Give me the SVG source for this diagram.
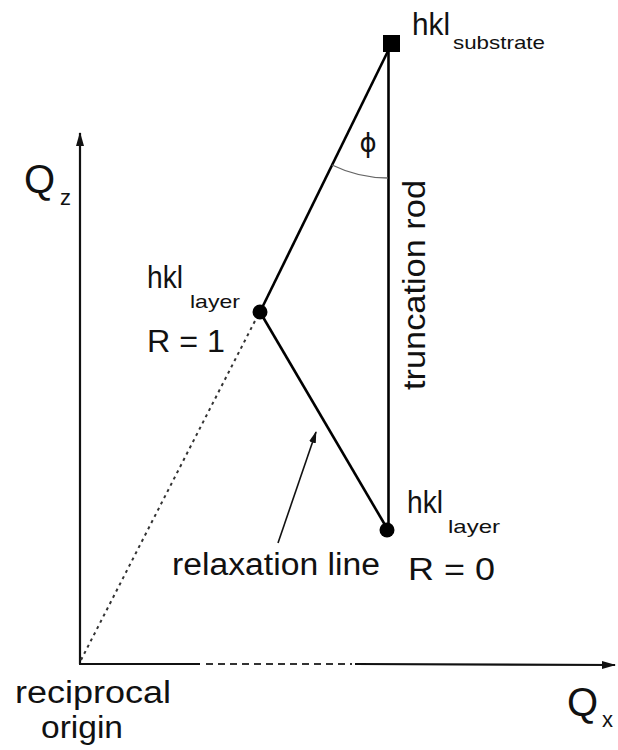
<svg xmlns="http://www.w3.org/2000/svg" width="618" height="750" viewBox="0 0 618 750">
<style>
  text { font-family: "Liberation Sans", Arial, sans-serif; fill: #111; }
  .lbl { font-size: 31px; }
  .sub { font-size: 19px; }
  .ax { font-size: 40px; }
  .axs { font-size: 22px; }
  .thick { stroke: #000; stroke-width: 2.6; fill: none; }
  .axis { stroke: #111; stroke-width: 2.2; fill: none; }
  .dash { stroke: #333; stroke-width: 1.8; stroke-dasharray: 7 5; fill: none; }
  .dot { stroke: #333; stroke-width: 2; stroke-dasharray: 3 4; fill: none; }
  .thin { stroke: #111; stroke-width: 1.6; fill: none; }
  .arc { stroke: #666; stroke-width: 1.3; fill: none; }
</style>
<defs>
  <marker id="axhead" viewBox="0 0 14 10" refX="13" refY="5" markerWidth="14" markerHeight="10" markerUnits="userSpaceOnUse" orient="auto">
    <path d="M0,1 L14,5 L0,9 Z" fill="#111"/>
  </marker>
  <marker id="smhead" viewBox="0 0 12 8" refX="11" refY="4" markerWidth="12" markerHeight="8" markerUnits="userSpaceOnUse" orient="auto">
    <path d="M0,0.5 L12,4 L0,7.5 Z" fill="#111"/>
  </marker>
</defs>

<g id="connectors">
  <line id="qz-axis" class="axis" x1="80" y1="664" x2="80" y2="133" marker-end="url(#axhead)"/>
  <line class="axis" x1="79" y1="664" x2="200" y2="664"/>
  <line class="dash" x1="206" y1="664" x2="352" y2="664"/>
  <line id="qx-axis" class="axis" x1="355" y1="664" x2="615" y2="665" marker-end="url(#axhead)"/>
  <line class="dot" x1="81" y1="660" x2="257" y2="317"/>
  <line class="thick" x1="388.5" y1="50" x2="260" y2="312"/>
  <line id="relaxation" class="thick" x1="260" y1="312" x2="388" y2="530"/>
  <line id="truncation-rod" class="thick" x1="388.5" y1="50" x2="388.5" y2="530"/>
  <path class="arc" d="M332,165 A128,128 0 0 0 388,178"/>
  <line class="thin" x1="278" y1="543" x2="316" y2="432" marker-end="url(#smhead)"/>
</g>

<g id="substrate">
  <rect x="383" y="35" width="17" height="17" fill="#000"/>
  <text class="lbl" x="412" y="35" font-size="30" textLength="38" lengthAdjust="spacingAndGlyphs">hkl</text>
  <text class="sub" x="453" y="49" textLength="92" lengthAdjust="spacingAndGlyphs">substrate</text>
</g>

<g id="layer-r1">
  <circle cx="260" cy="312" r="7.5" fill="#000"/>
  <text class="lbl" x="147" y="288" textLength="36" lengthAdjust="spacingAndGlyphs">hkl</text>
  <text class="sub" x="190" y="308" textLength="50" lengthAdjust="spacingAndGlyphs">layer</text>
  <text class="lbl" x="147" y="352" font-size="33" textLength="78" lengthAdjust="spacingAndGlyphs">R = 1</text>
</g>

<g id="layer-r0">
  <circle cx="387" cy="530" r="7.5" fill="#000"/>
  <text class="lbl" x="407" y="513" textLength="36" lengthAdjust="spacingAndGlyphs">hkl</text>
  <text class="sub" x="448" y="533" textLength="52" lengthAdjust="spacingAndGlyphs">layer</text>
  <text class="lbl" x="408" y="580" font-size="33" textLength="87" lengthAdjust="spacingAndGlyphs">R = 0</text>
</g>

<g id="labels">
  <text class="lbl" x="172" y="575" textLength="208" lengthAdjust="spacingAndGlyphs">relaxation line</text>
  <text class="lbl" transform="translate(425,390) rotate(-90)" x="0" y="0" textLength="210" lengthAdjust="spacingAndGlyphs">truncation rod</text>
  <text x="368" y="152" font-size="26" text-anchor="middle" style="font-family: 'DejaVu Sans', sans-serif">ϕ</text>
  <text class="ax" x="24" y="193">Q</text>
  <text class="axs" x="60" y="205">z</text>
  <text class="ax" x="567" y="716">Q</text>
  <text class="axs" x="602" y="727">x</text>
  <text class="lbl" x="15" y="703" textLength="156" lengthAdjust="spacingAndGlyphs">reciprocal</text>
  <text class="lbl" x="41" y="738" textLength="82" lengthAdjust="spacingAndGlyphs">origin</text>
</g>
</svg>
